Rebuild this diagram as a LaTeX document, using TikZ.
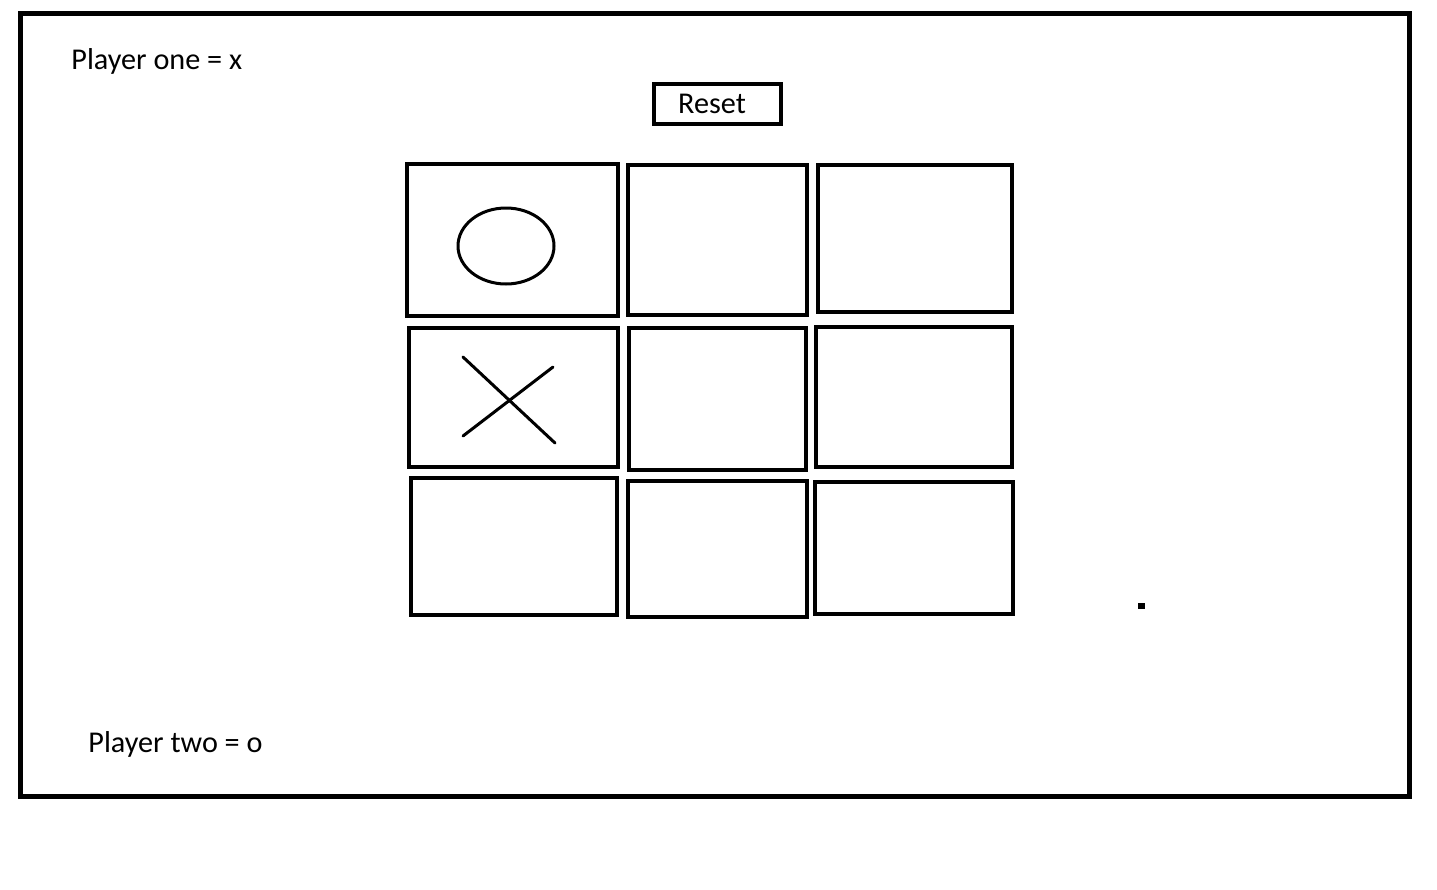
\documentclass[tikz,border=0pt]{standalone}
\usepackage{fontspec}
\setmainfont{Carlito}
\begin{document}
\begin{tikzpicture}[x=0.5pt,y=-0.5pt]
            \useasboundingbox (0,0) rectangle (1437,890);
            \tikzset{cell/.style={line width=2.3pt},mark line/.style={line width=1.5pt,line cap=round},label text/.style={inner sep=0pt,font=\fontsize{15.1pt}{17pt}\selectfont}}

            \draw[line width=2.5pt](20,13.5) rectangle (1409,796);

            \node[label text,anchor=base west] (playerone) at (71,69) {Player one = x};
            \node[label text,anchor=base west] (playertwo) at (88,752) {Player two = o};

            \draw[cell](654,84) rectangle (781,124);
            \node[label text,anchor=base] (reset) at (712,113) {Reset};

            \foreach \xa/\ya/\xb/\yb in{407/164/618/316, 628/165/807/315, 818/165/1012/312,
                409/328/618/467, 629/328/806/470, 816/327/1012/467,
                411/478/617/615, 628/481/807/617, 815/482/1013/614}{
            \draw[cell](\xa,\ya) rectangle (\xb,\yb);
            }

            \draw[mark line](506,246) ellipse [x radius=48,y radius=38];
            \draw[mark line](463,357)--(555,443);
            \draw[mark line](553,367)--(463,436);

            \fill(1138,603) rectangle (1144.5,609);

        \end{tikzpicture}
\end{document}
